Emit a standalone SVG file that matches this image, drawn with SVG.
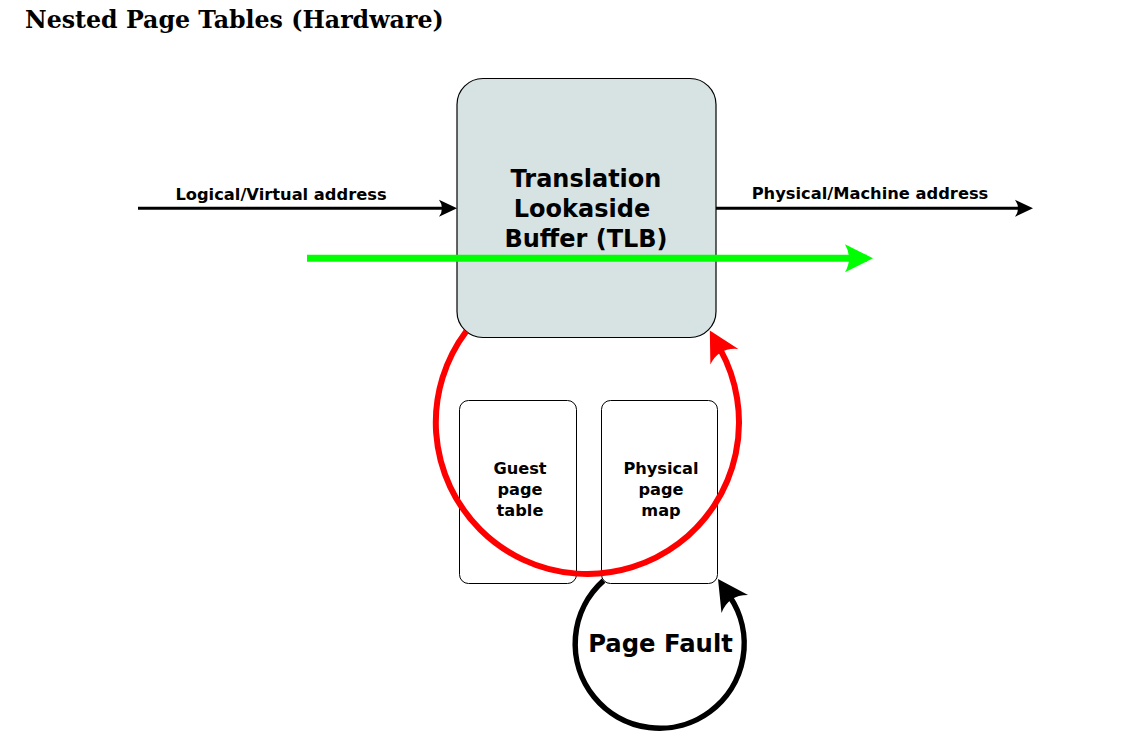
<svg xmlns="http://www.w3.org/2000/svg" width="1136" height="738" viewBox="0 0 1136 738">
<style>
.lbl{font-family:"DejaVu Sans","Liberation Sans",sans-serif;font-weight:bold;fill:#000;text-anchor:middle}
.title{font-family:"DejaVu Serif","Liberation Serif",serif;font-weight:bold;fill:#000}
.box{fill:none;stroke:#000;stroke-width:1}
.tlb{fill:#d7e3e3;stroke:#000;stroke-width:1.2}
</style>
<defs>
<marker id="ah" markerUnits="userSpaceOnUse" markerWidth="30" markerHeight="30" viewBox="-24 -15 30 30" refX="0" refY="0" orient="auto">
<path d="M6,0 L-12,-8.5 Q-6,0 -12,8.5 Z" fill="#000"/>
</marker>
<marker id="ahg" markerUnits="userSpaceOnUse" markerWidth="40" markerHeight="40" viewBox="-30 -20 40 40" refX="0" refY="0" orient="auto">
<path d="M6,0 L-22,-14 Q-14,0 -22,14 Z" fill="#00ff00"/>
</marker>
<marker id="ahr" markerUnits="userSpaceOnUse" markerWidth="50" markerHeight="50" viewBox="-25 -25 50 50" refX="0" refY="0" orient="auto">
<path d="M21,0 L-9,-16 Q2,0 -9,16 Z" fill="#ff0000"/>
</marker>
<marker id="ahk" markerUnits="userSpaceOnUse" markerWidth="50" markerHeight="50" viewBox="-25 -25 50 50" refX="0" refY="0" orient="auto">
<path d="M21,0 L-9,-16 Q2,0 -9,16 Z" fill="#000"/>
</marker>
</defs>
<rect width="1136" height="738" fill="#fff"/>
<text class="title" x="25" y="28" font-size="23.7">Nested Page Tables (Hardware)</text>
<g id="tlb">
<rect class="tlb" x="457" y="78.5" width="259" height="259" rx="26" ry="26"/>
<text class="lbl" font-size="24" x="586" y="187">Translation</text>
<text class="lbl" font-size="24" x="582" y="217">Lookaside</text>
<text class="lbl" font-size="24" x="586" y="247">Buffer (TLB)</text>
</g>
<g id="guest-page-table">
<rect class="box" x="459.5" y="400.5" width="117" height="183" rx="9" ry="9"/>
<text class="lbl" font-size="16.2" x="520" y="474">Guest</text>
<text class="lbl" font-size="16.2" x="520" y="495">page</text>
<text class="lbl" font-size="16.2" x="520" y="516">table</text>
</g>
<g id="physical-page-map">
<rect class="box" x="601.5" y="400.5" width="116" height="183" rx="9" ry="9"/>
<text class="lbl" font-size="16.2" x="661" y="474">Physical</text>
<text class="lbl" font-size="16.2" x="661" y="495">page</text>
<text class="lbl" font-size="16.2" x="661" y="516">map</text>
</g>
<g id="page-fault">
<text class="lbl" font-size="24.3" x="660.5" y="652">Page Fault</text>
</g>
<g id="connectors" fill="none">
<line x1="138" y1="208.3" x2="451" y2="208.3" stroke="#000" stroke-width="3" marker-end="url(#ah)"/>
<text class="lbl" font-size="16.3" x="281" y="200">Logical/Virtual address</text>
<line x1="716" y1="208.3" x2="1027" y2="208.3" stroke="#000" stroke-width="3" marker-end="url(#ah)"/>
<text class="lbl" font-size="16.3" x="870" y="199">Physical/Machine address</text>
<line x1="307" y1="258.3" x2="867" y2="258.3" stroke="#00ff00" stroke-width="7" marker-end="url(#ahg)"/>
<path d="M466.3,331.2 A151.6,151.6 0 1 0 720,348.9" stroke="#ff0000" stroke-width="6" marker-end="url(#ahr)"/>
<path d="M603.5,580.6 A84.5,84.5 0 1 0 729.75,596.5" stroke="#000" stroke-width="5.5" marker-end="url(#ahk)"/>
</g>
</svg>
